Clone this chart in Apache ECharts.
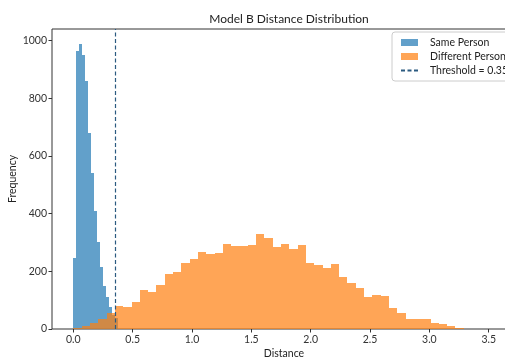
<!DOCTYPE html>
<html>
<head>
<meta charset="utf-8">
<script src="https://cdn.jsdelivr.net/npm/echarts@6/dist/echarts.min.js"></script>
<style>html,body{margin:0;padding:0;background:#fff}#c{width:505px;height:358px}</style>
</head>
<body>
<div id="c"></div>
<script>
// ---- data ----
const sameStart = 0.0;
const sameBinWidth = 0.025;
const sameCounts = [246, 965, 988, 950, 860, 680, 540, 410, 300, 215, 150, 110, 75, 50, 38];

const diffStart = 0.0;
const diffBinWidth = 0.07;
const diffCounts = [3, 10, 20, 35, 55, 80, 75, 95, 135, 130,
                    153, 191, 199, 230, 242, 266, 260, 265, 294, 288,
                    288, 292, 330, 316, 286, 295, 277, 292, 228, 222,
                    211, 225, 182, 161, 141, 110, 118, 115, 72, 54,
                    34, 34, 34, 20, 16, 10, 4, 1, 0, 0];

const threshold = 0.35;
const xTicks = [0.0, 0.5, 1.0, 1.5, 2.0, 2.5, 3.0, 3.5];
const yTicks = [0, 200, 400, 600, 800, 1000];

function bins(start, w, counts) {
  return counts.map((c, i) => [start + i * w, start + (i + 1) * w, c]);
}

function histRender(params, api) {
  const x0 = api.value(0), x1 = api.value(1), y = api.value(2);
  const p0 = api.coord([x0, y]);
  const p1 = api.coord([x1, 0]);
  const l = Math.round(p0[0]), r = Math.round(p1[0]);
  const t = Math.round(p0[1]), b = Math.round(p1[1]);
  return {
    type: 'rect',
    shape: { x: l, y: t, width: r - l, height: b - t },
    style: { fill: api.visual('color') }
  };
}

const font = 'Lato';
const chart = echarts.init(document.getElementById('c'), null, { renderer: 'canvas' });
chart.setOption({
  backgroundColor: '#fff',
  animation: false,
  textStyle: { fontFamily: font },
  title: {
    text: 'Model B Distance Distribution',
    left: 284, top: 8, textAlign: 'center',
    textStyle: { fontFamily: font, fontSize: 12, fontWeight: 'normal', color: '#222' }
  },
  grid: {
    left: 52, top: 29, bottom: 29, right: -11,
    outerBoundsMode: 'none', containLabel: false,
    show: true, borderColor: '#333', borderWidth: 1, backgroundColor: 'transparent'
  },
  legend: {
    orient: 'vertical', left: 392, top: 32,
    backgroundColor: 'rgba(255,255,255,0.8)', borderColor: '#ccc', borderWidth: 1, borderRadius: 3,
    padding: [5, 6, 5, 8], itemGap: 3, itemWidth: 17, itemHeight: 7,
    textStyle: { fontFamily: font, fontSize: 10.5, color: '#222', padding: [0, 0, 0, 7] },
    data: [
      { name: 'Same Person', icon: 'rect' },
      { name: 'Different Person', icon: 'rect' },
      { name: 'Threshold = 0.35', itemStyle: { color: 'rgba(0,0,0,0)', borderWidth: 0, opacity: 0 } }
    ]
  },
  xAxis: {
    type: 'value', min: -0.18, max: 3.73,
    name: 'Distance', nameLocation: 'middle', nameGap: 19, nameMoveOverlap: false,
    nameTextStyle: { fontFamily: font, fontSize: 10.5, color: '#222' },
    axisLine: { show: false, onZero: false },
    splitLine: { show: false },
    axisTick: { show: true, length: 3.5, customValues: xTicks, lineStyle: { color: '#333' } },
    axisLabel: { customValues: xTicks, fontSize: 10.5, color: '#333', margin: 5,
                 formatter: v => v.toFixed(1) }
  },
  yAxis: {
    type: 'value', min: 0, max: 1040,
    name: 'Frequency', nameLocation: 'middle', nameGap: 34, nameRotate: 90, nameMoveOverlap: false,
    nameTextStyle: { fontFamily: font, fontSize: 10.5, color: '#222' },
    axisLine: { show: false, onZero: false },
    splitLine: { show: false },
    axisTick: { show: true, length: 3.5, customValues: yTicks, lineStyle: { color: '#333' } },
    axisLabel: { customValues: yTicks, fontSize: 10.5, color: '#333', margin: 5,
                 formatter: v => String(v) }
  },
  series: [
    {
      name: 'Same Person', type: 'custom', renderItem: histRender,
      itemStyle: { color: 'rgba(31,119,180,0.7)' },
      encode: { x: [0, 1], y: 2 },
      data: bins(sameStart, sameBinWidth, sameCounts), z: 2
    },
    {
      name: 'Different Person', type: 'custom', renderItem: histRender,
      itemStyle: { color: 'rgba(255,127,14,0.7)' },
      encode: { x: [0, 1], y: 2 },
      data: bins(diffStart, diffBinWidth, diffCounts), z: 3
    },
    {
      name: 'Threshold = 0.35', type: 'line', data: [], symbol: 'none', showSymbol: false, z: 4,
      lineStyle: { color: '#2b5a80', type: [4, 2.5], width: 1.2 },
      itemStyle: { color: '#2b5a80' },
      markLine: {
        silent: true, symbol: 'none', label: { show: false },
        lineStyle: { color: '#2b5a80', type: [4, 2.5], width: 1.2 },
        data: [{ xAxis: threshold }]
      }
    }
  ]
});
</script>
</body>
</html>
